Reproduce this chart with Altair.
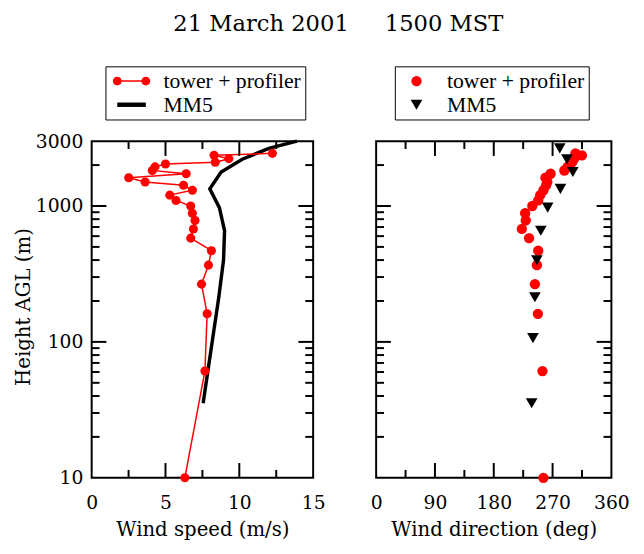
import altair as alt
import pandas as pd

# ---------------- text ----------------
chart_title = "21\u00a0March\u00a02001" + "\u00a0" * 5 + "1500\u00a0MST"
speed_title = "Wind speed (m/s)"
dir_title = "Wind direction (deg)"
height_title = "Height AGL (m)"
series_names = ["tower + profiler", "MM5"]
series_colors = ["#ff0000", "#000000"]

# ---------------- data ----------------
tower_height = [2440, 2360, 2230, 2100, 2040, 1940, 1825, 1727, 1615, 1503, 1420, 1306,
                1202, 1099, 1000, 885, 783, 678, 580, 469, 367, 266, 161, 61, 10]
tower_speed = [12.24, 8.29, 9.29, 8.37, 5.0, 4.29, 4.11, 6.4, 2.51, 3.62, 6.22, 6.82,
               5.29, 5.71, 6.71, 6.82, 7.0, 6.89, 6.71, 8.11, 7.91, 7.44, 7.82, 7.67, 6.31]
tower_dir = [305, 315, 303, 300, 297, 293, 288, 267, 259, 262, 260, 256,
             251, 248, 239, 228, 229, 223, 234, 248, 246, 243, 247.5, 254.5, 256]

mm5_height = [35.4, 106.6, 212.8, 399, 658, 973, 1337, 1778, 2208, 2654]
mm5_dir = [238, 240, 243, 246, 252, 262.5, 282, 301, 292, 281]

mm5_line_height = [35.4, 106.6, 212.8, 399, 658, 973, 1337, 1778, 2208, 2654, 3000]
mm5_line_speed = [7.55, 8.2, 8.61, 8.93, 9.0, 8.65, 8.0, 8.77, 10.2, 12.0, 13.9]

# ---------------- axis ticks ----------------
speed_labels = [0, 5, 10, 15]
dir_labels = [0, 90, 180, 270, 360]
height_labels = [10, 100, 1000, 3000]
speed_major = [5, 10]
speed_minor = [2.5, 7.5, 12.5]
dir_major = [90, 180, 270]
dir_minor = [45, 135, 225, 315]
height_major = [100, 1000]
height_minor = [20, 30, 40, 50, 60, 70, 80, 90, 200, 300, 400, 500, 600, 700, 800, 900, 2000]

W_L, W_R, H = 225, 239, 342
FONT = "DejaVu Serif"
LFONT = "Liberation Serif"
MAJOR, MINOR = 15, 8

speed_scale = alt.Scale(domain=[0, 15], nice=False, zero=False)
dir_scale = alt.Scale(domain=[0, 360], nice=False, zero=False)
height_scale = alt.Scale(type="log", domain=[10, 3000], nice=False)


def x_axis(title, values):
    return alt.Axis(title=title, values=values, ticks=False, tickSize=0, domain=False,
                    grid=False, labelFlush=False, labelOverlap=False,
                    labelFont=FONT, labelFontSize=19, labelColor="black", labelPadding=16,
                    titleFont=FONT, titleFontSize=20, titleFontWeight="normal",
                    titleColor="black", titlePadding=8)


speed_axis = x_axis(speed_title, speed_labels)
dir_axis = x_axis(dir_title, dir_labels)
height_axis = alt.Axis(title=height_title, values=height_labels, format="d", ticks=False,
                       tickSize=0, domain=False, grid=False, labelFlush=False,
                       labelOverlap=False, labelFont=FONT, labelFontSize=19,
                       labelColor="black", labelPadding=9,
                       titleFont=FONT, titleFontSize=20, titleFontWeight="normal",
                       titleColor="black", titleX=-69, titleY=168, titleBaseline="middle",
                       titleAngle=270)


def tick_rules(vals, channel, scale, axis, length, extent):
    base = alt.Chart(pd.DataFrame({"v": vals}))
    if channel == "x":
        enc = alt.X("v:Q", scale=scale, axis=axis)
        return [
            base.mark_rule(color="black", strokeWidth=2).encode(
                x=enc, y=alt.value(extent), y2=alt.value(extent - length)),
            base.mark_rule(color="black", strokeWidth=2).encode(
                x=enc, y=alt.value(0), y2=alt.value(length)),
        ]
    enc = alt.Y("v:Q", scale=scale, axis=axis)
    return [
        base.mark_rule(color="black", strokeWidth=2).encode(
            y=enc, x=alt.value(0), x2=alt.value(length)),
        base.mark_rule(color="black", strokeWidth=2).encode(
            y=enc, x=alt.value(extent), x2=alt.value(extent - length)),
    ]


def y_ticks(width, axis):
    return (tick_rules(height_major, "y", height_scale, axis, MAJOR, width)
            + tick_rules(height_minor, "y", height_scale, axis, MINOR, width))


# ---------------- left panel ----------------
tower_df = pd.DataFrame({
    "speed": tower_speed, "dir": tower_dir, "height": tower_height,
    "order": list(range(len(tower_height))), "series": series_names[0]})
mm5_line_df = pd.DataFrame({
    "speed": mm5_line_speed, "height": mm5_line_height, "series": series_names[1]})

# legend glyphs (unit coordinates, scaled by the legend symbol size)
tower_path = ("M-0.6,-0.15L5.2,-0.15L5.2,0.15L-0.6,0.15Z"
              "M-1.5,0A0.9,0.9,0,1,1,0.3,0A0.9,0.9,0,1,1,-1.5,0Z"
              "M4.3,0A0.9,0.9,0,1,1,6.1,0A0.9,0.9,0,1,1,4.3,0Z")
mm5_path = "M-0.6,-0.45L5.2,-0.45L5.2,0.45L-0.6,0.45Z"

legend_left = alt.Legend(
    title=None, orient="none", legendX=14, legendY=-76, padding=4, rowPadding=2,
    strokeColor="black", labelFont=LFONT, labelFontSize=22, labelColor="black",
    symbolOffset=0, labelOffset=33, symbolSize=100, symbolOpacity=1,
    symbolStrokeWidth=0)

xl = dict(scale=speed_scale, axis=speed_axis)
yl = dict(scale=height_scale, axis=height_axis)

mm5_line = alt.Chart(mm5_line_df).mark_line(color="#000000", strokeWidth=3.5).encode(
    x=alt.X("speed:Q", **xl),
    y=alt.Y("height:Q", **yl),
    order=alt.Order("height:Q"),
)
tower_line = alt.Chart(tower_df).mark_line(color="#ff0000", strokeWidth=1.5).encode(
    x=alt.X("speed:Q", **xl),
    y=alt.Y("height:Q", **yl),
    order=alt.Order("order:Q"),
)
tower_pts = alt.Chart(tower_df).mark_circle(color="#ff0000", size=85, opacity=1).encode(
    x=alt.X("speed:Q", **xl),
    y=alt.Y("height:Q", **yl),
)
legend_df = pd.concat([tower_df[["speed", "height", "series"]], mm5_line_df],
                      ignore_index=True)
legend_layer = alt.Chart(legend_df).mark_point(filled=True, opacity=0).encode(
    x=alt.X("speed:Q", **xl),
    y=alt.Y("height:Q", **yl),
    color=alt.Color("series:N", scale=alt.Scale(domain=series_names, range=series_colors),
                    legend=legend_left),
    shape=alt.Shape("series:N", scale=alt.Scale(domain=series_names,
                                                range=[tower_path, mm5_path]),
                    legend=legend_left),
)

left = alt.layer(
    mm5_line, tower_line, tower_pts, legend_layer,
    *tick_rules(speed_major, "x", speed_scale, speed_axis, MAJOR, H),
    *tick_rules(speed_minor, "x", speed_scale, speed_axis, MINOR, H),
    *y_ticks(W_L, height_axis),
).properties(width=W_L, height=H)

# ---------------- right panel ----------------
mm5_df = pd.DataFrame({"dir": mm5_dir, "height": mm5_height, "series": series_names[1]})
right_df = pd.concat([tower_df[["dir", "height", "series"]], mm5_df], ignore_index=True)

legend_right = alt.Legend(
    title=None, orient="none", legendX=19, legendY=-76, padding=4, rowPadding=2,
    strokeColor="black", labelFont=LFONT, labelFontSize=22, labelColor="black",
    symbolOffset=7, labelOffset=20, symbolSize=100)

dir_pts = alt.Chart(right_df).mark_point(filled=True, opacity=1).encode(
    x=alt.X("dir:Q", scale=dir_scale, axis=dir_axis),
    y=alt.Y("height:Q", scale=height_scale, axis=None),
    color=alt.Color("series:N", scale=alt.Scale(domain=series_names, range=series_colors),
                    legend=legend_right),
    shape=alt.Shape("series:N", scale=alt.Scale(domain=series_names,
                                                range=["circle", "triangle-down"]),
                    legend=legend_right),
    size=alt.Size("series:N", scale=alt.Scale(domain=series_names, range=[110, 140]),
                  legend=None),
)

right = alt.layer(
    dir_pts,
    *tick_rules(dir_major, "x", dir_scale, dir_axis, MAJOR, H),
    *tick_rules(dir_minor, "x", dir_scale, dir_axis, MINOR, H),
    *y_ticks(W_R, None),
).properties(width=W_R, height=H)

chart = alt.hconcat(left, right, spacing=42).resolve_scale(
    x="independent", y="independent", color="independent", shape="independent",
    size="independent",
).resolve_legend(color="independent", shape="independent").properties(
    title=alt.TitleParams(chart_title, font=FONT, fontSize=23, fontWeight="normal",
                          color="black", anchor="middle", offset=29, dx=17),
    padding={"left": 5, "top": 1, "right": 5, "bottom": 0},
).configure_view(stroke="black", strokeWidth=2)

chart.save("out.html", embed_options={"renderer": "svg", "actions": False})
